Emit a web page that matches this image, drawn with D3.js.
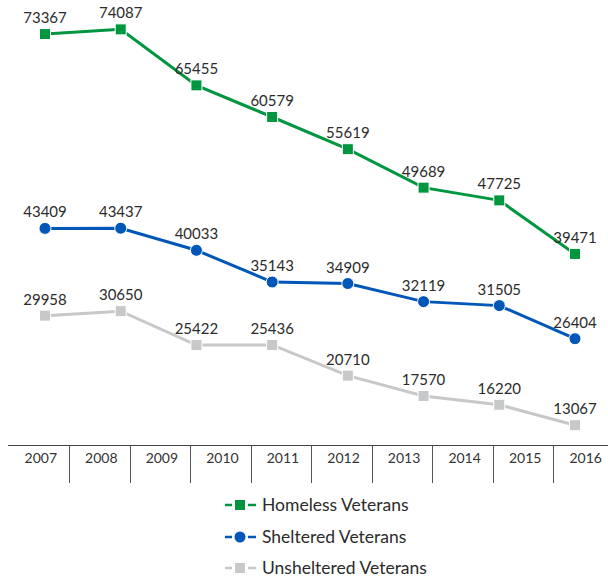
<!DOCTYPE html>
<html>
<head>
<meta charset="utf-8">
<script src="https://cdn.jsdelivr.net/npm/d3@7"></script>
<style>
  body { margin: 0; background: #fff; }
  svg { display: block; font-family: Lato, "Open Sans", sans-serif; }
</style>
</head>
<body>
<script>
const axisYears = [2007, 2008, 2009, 2010, 2011, 2012, 2013, 2014, 2015, 2016];
const pointYears = [2009, 2010, 2011, 2012, 2013, 2014, 2015, 2016];

const homeless = [73367, 74087, 65455, 60579, 55619, 49689, 47725, 39471];
const sheltered = [43409, 43437, 40033, 35143, 34909, 32119, 31505, 26404];
const unsheltered = [29958, 30650, 25422, 25436, 20710, 17570, 16220, 13067];

const seriesNames = ["Homeless Veterans", "Sheltered Veterans", "Unsheltered Veterans"];

const W = 608;
const H = 577;
const axisY = 445.5;

const series = [
  {name: seriesNames[0], values: homeless, color: "#009640", shape: "square"},
  {name: seriesNames[1], values: sheltered, color: "#0057b8", shape: "circle"},
  {name: seriesNames[2], values: unsheltered, color: "#c6c8ca", shape: "square"}
];

const svg = d3.select("body")
  .append("svg")
  .attr("width", W)
  .attr("height", H);

const xPoint = d3.scalePoint()
  .domain(pointYears)
  .range([45, 575]);

const yScale = d3.scaleLinear()
  .domain([0, 80000])
  .range([510, -9]);

// year axis with divider lines
const xBand = d3.scaleBand()
  .domain(axisYears)
  .range([8.5, 614]);

const axis = svg.append("g").attr("class", "x-axis");

axis.append("line")
  .attr("x1", 8)
  .attr("x2", W)
  .attr("y1", axisY)
  .attr("y2", axisY)
  .attr("stroke", "#444")
  .attr("stroke-width", 1);

axis.selectAll("line.divider")
  .data(axisYears.slice(1))
  .enter()
  .append("line")
  .attr("class", "divider")
  .attr("x1", d => Math.round(xBand(d)) + 0.5)
  .attr("x2", d => Math.round(xBand(d)) + 0.5)
  .attr("y1", axisY)
  .attr("y2", 483)
  .attr("stroke", "#555")
  .attr("stroke-width", 1);

axis.selectAll("text")
  .data(axisYears)
  .enter()
  .append("text")
  .attr("x", d => xBand(d) + xBand.bandwidth() / 2 + 2)
  .attr("y", 463)
  .attr("text-anchor", "middle")
  .attr("fill", "#333")
  .style("font-size", "14px")
  .text(d => d);

const line = d3.line()
  .x((d, i) => xPoint(pointYears[i]))
  .y(d => yScale(d));

function drawMarker(g, s, x, y) {
  if (s.shape === "circle") {
    g.append("circle")
      .attr("cx", x)
      .attr("cy", y)
      .attr("r", 6)
      .attr("fill", s.color)
      .attr("stroke", "#fff")
      .attr("stroke-width", 1);
  } else {
    g.append("rect")
      .attr("x", x - 5.5)
      .attr("y", y - 5.5)
      .attr("width", 11)
      .attr("height", 11)
      .attr("fill", s.color)
      .attr("stroke", "#fff")
      .attr("stroke-width", 1);
  }
}

series.forEach(s => {
  const g = svg.append("g");

  g.append("path")
    .datum(s.values)
    .attr("d", line)
    .attr("fill", "none")
    .attr("stroke", s.color)
    .attr("stroke-width", 3);

  s.values.forEach((v, i) => {
    drawMarker(g, s, xPoint(pointYears[i]), yScale(v));
  });

  g.selectAll("text")
    .data(s.values)
    .enter()
    .append("text")
    .attr("x", (d, i) => xPoint(pointYears[i]))
    .attr("y", d => yScale(d) - 11)
    .attr("text-anchor", "middle")
    .attr("fill", "#2b2b2b")
    .style("font-size", "15px")
    .text(d => d);
});

// legend
const legend = svg.append("g").attr("class", "legend");
const legendY = [505, 537, 568];

series.forEach((s, i) => {
  const y = legendY[i];
  legend.append("line")
    .attr("x1", 225).attr("x2", 232)
    .attr("y1", y).attr("y2", y)
    .attr("stroke", s.color).attr("stroke-width", 2.5);
  legend.append("line")
    .attr("x1", 248).attr("x2", 256)
    .attr("y1", y).attr("y2", y)
    .attr("stroke", s.color).attr("stroke-width", 2.5);
  if (s.shape === "circle") {
    legend.append("circle")
      .attr("cx", 240).attr("cy", y).attr("r", 5.5)
      .attr("fill", s.color);
  } else {
    legend.append("rect")
      .attr("x", 235).attr("y", y - 5)
      .attr("width", 10).attr("height", 10)
      .attr("fill", s.color);
  }
  legend.append("text")
    .attr("x", 262)
    .attr("y", y)
    .attr("dy", "0.35em")
    .attr("fill", "#2b2b2b")
    .style("font-size", "17.5px")
    .text(s.name);
});
</script>
</body>
</html>
